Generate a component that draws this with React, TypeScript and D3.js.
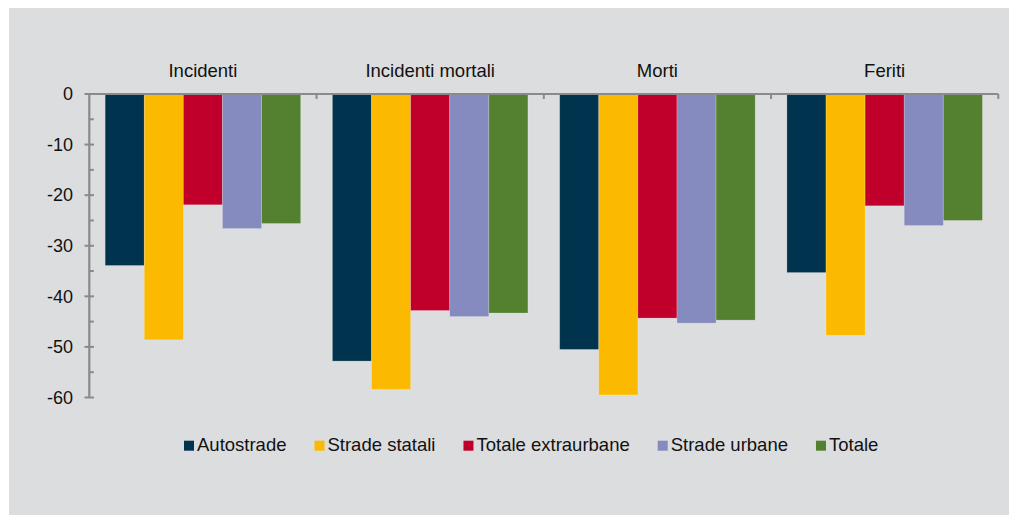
import React, { useEffect, useRef } from "react";
import * as d3 from "d3";

// Variazione percentuale per categoria di strada
const categories = ["Incidenti", "Incidenti mortali", "Morti", "Feriti"];
const seriesNames = ["Autostrade", "Strade statali", "Totale extraurbane", "Strade urbane", "Totale"];
const autostrade = [-33.9, -52.8, -50.5, -35.3];
const stradeStatali = [-48.6, -58.4, -59.5, -47.7];
const totaleExtraurbane = [-21.9, -42.8, -44.3, -22.1];
const stradeUrbane = [-26.6, -44.0, -45.3, -26.0];
const totale = [-25.6, -43.3, -44.7, -25.0];
const seriesValues = [autostrade, stradeStatali, totaleExtraurbane, stradeUrbane, totale];
const seriesColors = ["#00334D", "#FBBA00", "#C0002B", "#858BBE", "#538130"];
const yTicks = [0, -10, -20, -30, -40, -50, -60];

const W = 1009;
const H = 515;
const FONT = "'Liberation Sans', Arial, sans-serif";
const FS = 18.5;

export default function App() {
  const ref = useRef<SVGSVGElement>(null);

  useEffect(() => {
    const svg = d3.select(ref.current);
    svg.selectAll("*").remove();

    svg.append("rect").attr("x", 9).attr("y", 8).attr("width", W - 9).attr("height", H - 8).attr("fill", "#DCDDDF");

    const x0 = d3.scaleBand<string>().domain(categories).range([89.3, 998.3]).paddingInner(0).paddingOuter(0);
    const x1 = d3.scaleBand<string>().domain(seriesNames).range([0, x0.bandwidth()]).paddingInner(0).paddingOuter(0.406);
    const y = d3.scaleLinear().domain([-60, 0]).range([397.5, 94]);

    // bars
    const g = svg.append("g");
    categories.forEach((c, ci) => {
      seriesNames.forEach((s, si) => {
        const v = seriesValues[si][ci];
        g.append("rect")
          .attr("x", x0(c)! + x1(s)!)
          .attr("y", y(0))
          .attr("width", x1.bandwidth())
          .attr("height", y(v) - y(0))
          .attr("fill", seriesColors[si])
          .attr("stroke", "#ffffff")
          .attr("stroke-opacity", 0.25)
          .attr("stroke-width", 0.8);
      });
    });

    const axisColor = "#8A8A8A";
    // y axis line
    svg.append("line").attr("x1", 89.3).attr("x2", 89.3).attr("y1", y(0)).attr("y2", y(-60))
      .attr("stroke", axisColor).attr("stroke-width", 2.2);
    // major ticks and labels
    yTicks.forEach((t) => {
      svg.append("line").attr("x1", 84.5).attr("x2", 94).attr("y1", y(t)).attr("y2", y(t))
        .attr("stroke", axisColor).attr("stroke-width", 2);
      svg.append("text").attr("x", 73).attr("y", y(t)).attr("dy", "0.35em").attr("text-anchor", "end")
        .attr("font-family", FONT).attr("font-size", 18).attr("fill", "#111").text(String(t));
    });
    // minor ticks
    d3.range(-55, 0, 10).forEach((t) => {
      svg.append("line").attr("x1", 89.3).attr("x2", 93.8).attr("y1", y(t)).attr("y2", y(t))
        .attr("stroke", axisColor).attr("stroke-width", 2);
    });

    // x axis line at zero
    svg.append("line").attr("x1", 88.2).attr("x2", 998.3).attr("y1", y(0)).attr("y2", y(0))
      .attr("stroke", axisColor).attr("stroke-width", 2.2);
    // category boundary ticks
    categories.forEach((c, i) => {
      if (i === 0) return;
      const bx = x0(c)!;
      svg.append("line").attr("x1", bx).attr("x2", bx).attr("y1", y(0)).attr("y2", y(0) + 5)
        .attr("stroke", axisColor).attr("stroke-width", 2);
    });
    svg.append("line").attr("x1", 998.3).attr("x2", 998.3).attr("y1", y(0)).attr("y2", y(0) + 5)
      .attr("stroke", axisColor).attr("stroke-width", 2);

    // category labels above the chart
    categories.forEach((c) => {
      svg.append("text").attr("x", x0(c)! + x0.bandwidth() / 2).attr("y", 77)
        .attr("text-anchor", "middle").attr("font-family", FONT).attr("font-size", FS).attr("fill", "#111").text(c);
    });

    // legend
    let lx = 184;
    seriesNames.forEach((s, si) => {
      svg.append("rect").attr("x", lx).attr("y", 440.7).attr("width", 10).attr("height", 10).attr("fill", seriesColors[si]);
      const t = svg.append("text").attr("x", lx + 13).attr("y", 451).attr("font-family", FONT)
        .attr("font-size", FS).attr("fill", "#111").text(s);
      const w = (t.node() as SVGTextElement).getComputedTextLength();
      lx = lx + 13 + w + 28;
    });
  }, []);

  return (
    <svg ref={ref} width={W} height={H} style={{ position: "absolute", left: 0, top: 0, display: "block" }} />
  );
}
